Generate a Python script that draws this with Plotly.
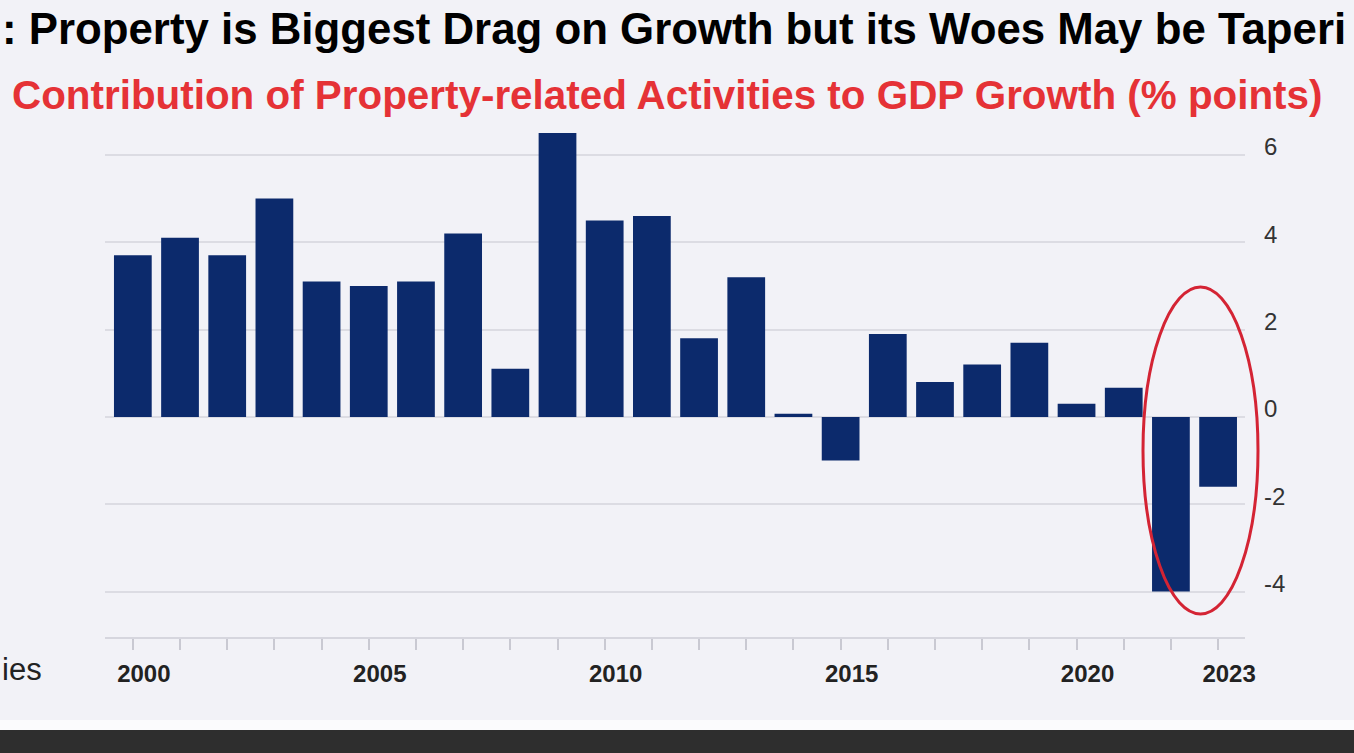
import plotly.graph_objects as go

# ---- data ----
years = list(range(2000, 2024))
contribution = [3.7, 4.1, 3.7, 5.0, 3.1, 3.0, 3.1, 4.2, 1.1, 6.5,
                4.5, 4.6, 1.8, 3.2, 0.07, -1.0, 1.9, 0.8, 1.2, 1.7,
                0.3, 0.67, -4.0, -1.6]
label_years = [2000, 2005, 2010, 2015, 2020, 2023]
y_ticks = [6, 4, 2, 0, -2, -4]

title_main = ": Property is Biggest Drag on Growth but its Woes May be Taperi"
title_sub = "Contribution of Property-related Activities to GDP Growth (% points)"

W, H = 1354, 753
L, R, T, B = 105, 109, 130, 116
PW, PH = W - L - R, H - T - B


def px(x):
    return (x - L) / PW


def py(y):
    return (H - B - y) / PH


fig = go.Figure()
fig.add_trace(go.Bar(
    x=years, y=contribution, width=0.8,
    marker=dict(color="#0c2a6c", line=dict(width=0)),
    showlegend=False,
))

fig.update_layout(
    width=W, height=H,
    margin=dict(l=L, r=R, t=T, b=B),
    paper_bgcolor="#f2f2f7",
    plot_bgcolor="#f2f2f7",
    font=dict(family="Liberation Sans, Arial, sans-serif", color="#222"),
    bargap=0.2,
    xaxis=dict(
        range=[1999.41, 2023.57],
        tickvals=years,
        ticktext=[f"<b>{y}</b>" if y in label_years else "" for y in years],
        tickfont=dict(size=24, color="#222", family="Liberation Sans, Arial"),
        ticks="outside", ticklen=11, tickwidth=1.5, tickcolor="#c9c9d2",
        showline=True, linecolor="#d6d6de", linewidth=2,
        showgrid=False, zeroline=False,
        ticklabelstandoff=3,
        ticklabelshift=11,
    ),
    yaxis=dict(
        side="right",
        range=[-5.04, 6.57],
        tickvals=y_ticks,
        ticktext=[str(v) for v in y_ticks],
        tickfont=dict(size=24, color="#333"),
        showgrid=True, gridcolor="#dcdce3", gridwidth=2,
        zeroline=True, zerolinecolor="#dcdce3", zerolinewidth=2,
        showline=False, ticks="",
        ticklabelstandoff=18,
        ticklabelshift=-8,
    ),
)

# bottom strips
fig.add_shape(type="rect", xref="paper", yref="paper",
              x0=px(-10), x1=px(W + 10), y0=py(720), y1=py(730),
              fillcolor="#fbfbfd", line=dict(width=0), layer="below")
fig.add_shape(type="rect", xref="paper", yref="paper",
              x0=px(-10), x1=px(W + 10), y0=py(730), y1=py(H + 10),
              fillcolor="#2e2e2e", line=dict(width=0), layer="below")

# red ellipse highlight (drawn in paper space so it is not clipped)
fig.add_shape(type="circle", xref="paper", yref="paper",
              x0=px(1143), x1=px(1258), y0=py(614), y1=py(287),
              line=dict(color="#d42434", width=3), fillcolor="rgba(0,0,0,0)")

# titles
fig.add_annotation(xref="paper", yref="paper", x=px(0), y=py(28),
                   xanchor="left", yanchor="middle", showarrow=False,
                   text=f"<b>{title_main}</b>",
                   font=dict(size=43.8, color="#000", family="Liberation Sans, Arial"))
fig.add_annotation(xref="paper", yref="paper", x=px(10), y=py(95),
                   xanchor="left", yanchor="middle", showarrow=False,
                   text=f"<b>{title_sub}</b>",
                   font=dict(size=40.4, color="#e53236", family="Liberation Sans, Arial"))
fig.add_annotation(xref="paper", yref="paper", x=px(0), y=py(669),
                   xanchor="left", yanchor="middle", showarrow=False,
                   text="ies",
                   font=dict(size=31, color="#222", family="Liberation Sans, Arial"))

fig.write_html("out.html")
